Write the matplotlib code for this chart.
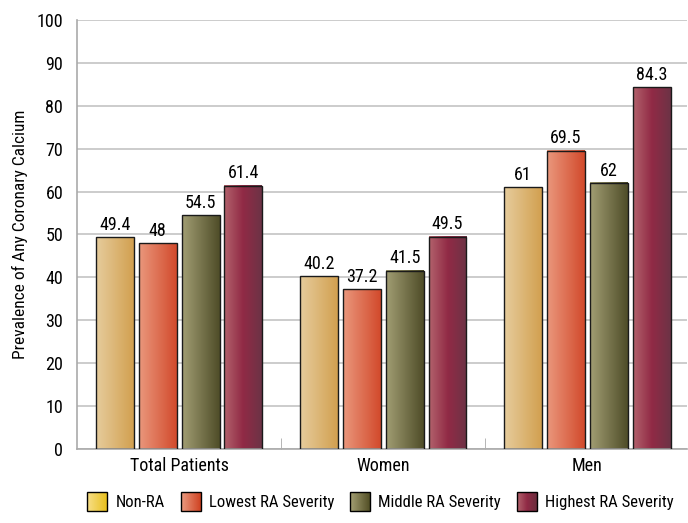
import numpy as np
import matplotlib.pyplot as plt
from matplotlib.colors import LinearSegmentedColormap
from matplotlib.patches import Rectangle
from matplotlib.legend_handler import HandlerBase
from matplotlib import font_manager

# Data
groups = ['Total Patients', 'Women', 'Men']
series = ['Non-RA', 'Lowest RA Severity', 'Middle RA Severity', 'Highest RA Severity']
non_ra = [49.4, 40.2, 61]
lowest = [48, 37.2, 69.5]
middle = [54.5, 41.5, 62]
highest = [61.4, 49.5, 84.3]
values = [non_ra, lowest, middle, highest]
labels = [['49.4', '40.2', '61'], ['48', '37.2', '69.5'],
          ['54.5', '41.5', '62'], ['61.4', '49.5', '84.3']]

bar_grad = [['#e6cc9c', '#d2a050'],
            ['#ea977c', '#d24a2c'],
            ['#a19d73', '#4f4d28'],
            ['#b2626c', '#912a45', '#6c3346']]
leg_grad = [['#f7de86', '#e8c020'],
            ['#ea9a80', '#cf4322'],
            ['#a39e72', '#535026'],
            ['#b2626c', '#902a45', '#6c2c3c']]

# pick a narrow font if one exists
fonts = font_manager.fontManager.ttflist
names = {f.name for f in fonts}
fam, stretch = 'DejaVu Sans', 'normal'
for cand in ['Liberation Sans Narrow', 'Roboto Condensed', 'Open Sans Condensed', 'Noto Sans Condensed']:
    if cand in names:
        fam = cand
        break
else:
    if any('DejaVuSansCondensed' in f.fname for f in fonts):
        stretch = 'condensed'
    elif 'Roboto' in names:
        fam = 'Roboto'
plt.rcParams['font.family'] = [fam, 'DejaVu Sans']
plt.rcParams['font.stretch'] = stretch
fs = 13 if fam != 'DejaVu Sans' or stretch == 'condensed' else 11.5

fig = plt.figure(figsize=(6.88, 5.23), dpi=100)
ax = fig.add_axes([0.112, 0.1415, 0.887, 0.8205])

x = np.arange(len(groups))
step = 0.21
w = 0.186
grad = np.linspace(0, 1, 64).reshape(1, -1)
for i, vals in enumerate(values):
    cmap = LinearSegmentedColormap.from_list(f'c{i}', bar_grad[i])
    for j, v in enumerate(vals):
        x0 = x[j] + (i - 1.5) * step - w / 2
        ax.imshow(grad, cmap=cmap, extent=[x0, x0 + w, 0, v], aspect='auto', zorder=2)
        ax.add_patch(Rectangle((x0, 0), w, v, fill=False, edgecolor='#1a1a1a', lw=1.0, zorder=3))
        ax.text(x0 + w / 2, v + 0.8, labels[i][j], ha='center', va='bottom', fontsize=fs, zorder=4)

ax.set_xlim(-0.5, 2.49)
ax.set_ylim(0, 100)
ax.set_yticks(range(0, 101, 10))
ax.set_xticks(x)
ax.set_xticklabels(groups, fontsize=fs)
ax.set_xticks([0.5, 1.5], minor=True)
ax.tick_params(axis='x', which='major', length=0, pad=6)
ax.tick_params(axis='x', which='minor', direction='in', length=8, color='#aaaaaa')
ax.tick_params(axis='y', length=0, labelsize=fs, pad=10)
ax.grid(axis='y', color='#c4c4c4', lw=1.2, zorder=0)
ax.set_axisbelow(True)
for s in ['top', 'right']:
    ax.spines[s].set_visible(False)
for s in ['left', 'bottom']:
    ax.spines[s].set_color('#aaaaaa')
    ax.spines[s].set_linewidth(1.2)
ax.set_ylabel('Prevalence of Any Coronary Calcium', fontsize=fs - 0.5, labelpad=6)


class GradHandler(HandlerBase):
    def __init__(self, colors):
        super().__init__()
        self.colors = colors

    def create_artists(self, legend, orig_handle, xdescent, ydescent, width, height, fontsize, trans):
        cmap = LinearSegmentedColormap.from_list('lg', self.colors)
        n = 20
        arts = []
        for k in range(n):
            r = Rectangle((-xdescent + width * k / n, -ydescent), width / n + 0.3, height,
                          facecolor=cmap(k / (n - 1)), edgecolor='none', transform=trans)
            arts.append(r)
        arts.append(Rectangle((-xdescent, -ydescent), width, height, fill=False,
                              edgecolor='black', lw=1.0, transform=trans))
        return arts


handles = [Rectangle((0, 0), 1, 1) for _ in series]
hmap = {h: GradHandler(leg_grad[i]) for i, h in enumerate(handles)}
fig.legend(handles, series, handler_map=hmap, loc='lower center', bbox_to_anchor=(0.553, -0.005),
           ncol=4, frameon=False, fontsize=fs - 1, handlelength=1.2, handleheight=1.35,
           columnspacing=0.95, handletextpad=0.5)

plt.savefig('out.png', dpi=100)
